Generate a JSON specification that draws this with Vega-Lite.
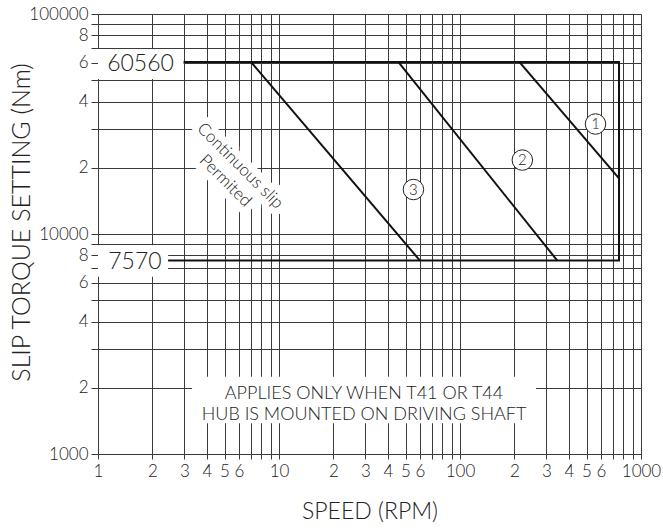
{
  "$schema": "https://vega.github.io/schema/vega-lite/v6.json",
  "width": 543,
  "height": 440,
  "autosize": {"type": "none"},
  "padding": {"left": 98, "top": 14, "right": 22, "bottom": 76},
  "background": "white",
  "config": {"view": {"stroke": null}, "font": "Lato"},
  "datasets": {
    "lines": [
      {"seg": "box", "o": 0, "x": 2.97, "y": 60560},
      {"seg": "box", "o": 1, "x": 756, "y": 60560},
      {"seg": "box", "o": 2, "x": 756, "y": 7570},
      {"seg": "box", "o": 3, "x": 2.44, "y": 7570},
      {"seg": "d1", "o": 0, "x": 212.6, "y": 60560},
      {"seg": "d1", "o": 1, "x": 756, "y": 17915},
      {"seg": "d2", "o": 0, "x": 45.6, "y": 60560},
      {"seg": "d2", "o": 1, "x": 344.9, "y": 7570},
      {"seg": "d3", "o": 0, "x": 7.0, "y": 60560},
      {"seg": "d3", "o": 1, "x": 60.1, "y": 7570}
    ],
    "boxes": [
      {"x": 1, "x2": 2.97, "y": 69300, "y2": 50700},
      {"x": 1, "x2": 2.44, "y": 8900, "y2": 6400},
      {"x": 3.31, "x2": 263, "y": 2245, "y2": 1379}
    ],
    "values": [
      {"label": "60560", "x": 1.717, "y": 58960},
      {"label": "7570", "x": 1.6, "y": 7424}
    ],
    "note": [
      {"label": "APPLIES ONLY WHEN T41 OR T44\nHUB IS MOUNTED ON DRIVING SHAFT", "x": 29.5, "y": 1874}
    ],
    "slip": [
      {"label": "Continuous slip\nPermited", "x": 6.09, "y": 20370}
    ],
    "curves": [
      {"n": "1", "x": 560.6, "y": 31623},
      {"n": "2", "x": 221, "y": 21680},
      {"n": "3", "x": 55.3, "y": 15930}
    ]
  },
  "encoding": {
    "x": {
      "field": "x",
      "type": "quantitative",
      "scale": {"type": "log", "domain": [1, 1000], "nice": false},
      "axis": {
        "zindex": 0,
        "values": [1, 2, 3, 4, 5, 6, 7, 8, 9, 10, 20, 30, 40, 50, 60, 70, 80, 90, 100, 200, 300, 400, 500, 600, 700, 800, 900, 1000],
        "labelExpr": "indexof([1,10,100,1000], datum.value) >= 0 ? toString(datum.value) : (indexof([2,3,4,5,6,20,30,40,50,60,200,300,400,500,600], datum.value) >= 0 ? substring(toString(datum.value),0,1) : '')",
        "grid": true,
        "gridColor": "#3a3a3a",
        "gridOpacity": 1,
        "gridWidth": 1,
        "domainColor": "#3a3a3a",
        "tickColor": "#3a3a3a",
        "tickSize": 5,
        "labelPadding": 4,
        "labelFont": "Lato",
        "labelFontSize": 17,
        "labelFontWeight": 300,
        "labelColor": "#222222",
        "labelFlush": false,
        "labelOverlap": false,
        "labelBound": false,
        "title": "SPEED (RPM)",
        "titleFont": "Lato",
        "titleFontSize": 23,
        "titleFontWeight": 300,
        "titleColor": "#222222",
        "titleBaseline": "alphabetic",
        "titleY": 64
      }
    },
    "y": {
      "field": "y",
      "type": "quantitative",
      "scale": {"type": "log", "domain": [1000, 100000], "nice": false},
      "axis": {
        "zindex": 0,
        "values": [1000, 2000, 3000, 4000, 5000, 6000, 7000, 8000, 9000, 10000, 20000, 30000, 40000, 50000, 60000, 70000, 80000, 90000, 100000],
        "labelExpr": "indexof([1000,10000,100000], datum.value) >= 0 ? toString(datum.value) : (indexof([2000,4000,6000,8000,20000,40000,60000,80000], datum.value) >= 0 ? substring(toString(datum.value),0,1) : '')",
        "grid": true,
        "gridColor": "#3a3a3a",
        "gridOpacity": 1,
        "gridWidth": 1,
        "domainColor": "#3a3a3a",
        "tickColor": "#3a3a3a",
        "tickSize": 7,
        "labelPadding": 3,
        "labelFont": "Lato",
        "labelFontSize": 17,
        "labelFontWeight": 300,
        "labelColor": "#222222",
        "labelOverlap": false,
        "labelBound": false,
        "title": "SLIP TORQUE SETTING (Nm)",
        "titleFont": "Lato",
        "titleFontSize": 25,
        "titleFontWeight": 300,
        "titleColor": "#222222",
        "titleBaseline": "middle",
        "titleAngle": -90,
        "titleX": -77,
        "titleY": 208
      }
    }
  },
  "layer": [
    {
      "data": {"name": "boxes"},
      "mark": {"type": "rect", "fill": "white", "stroke": null},
      "encoding": {"x2": {"field": "x2"}, "y2": {"field": "y2"}}
    },
    {
      "data": {"name": "lines"},
      "mark": {"type": "line", "color": "#111111", "strokeWidth": 2, "strokeJoin": "miter"},
      "encoding": {"detail": {"field": "seg", "type": "nominal"}, "order": {"field": "o", "type": "quantitative"}}
    },
    {
      "data": {"name": "values"},
      "mark": {"type": "text", "font": "Lato", "fontSize": 23, "fontWeight": 300, "color": "#222222", "align": "center", "baseline": "middle"},
      "encoding": {"text": {"field": "label", "type": "nominal"}}
    },
    {
      "data": {"name": "note"},
      "mark": {"type": "text", "font": "Lato", "fontSize": 18, "fontWeight": 300, "color": "#222222", "align": "center", "baseline": "middle", "lineBreak": "\n", "lineHeight": 20.7},
      "encoding": {"text": {"field": "label", "type": "nominal"}}
    },
    {
      "data": {"name": "slip"},
      "mark": {"type": "text", "font": "Lato", "fontSize": 17, "fontWeight": 300, "fill": "white", "stroke": "white", "strokeWidth": 14, "strokeJoin": "round", "align": "center", "baseline": "middle", "angle": 45, "lineBreak": "\n", "lineHeight": 21},
      "encoding": {"text": {"field": "label", "type": "nominal"}}
    },
    {
      "data": {"name": "slip"},
      "mark": {"type": "text", "font": "Lato", "fontSize": 17, "fontWeight": 300, "color": "#222222", "align": "center", "baseline": "middle", "angle": 45, "lineBreak": "\n", "lineHeight": 21},
      "encoding": {"text": {"field": "label", "type": "nominal"}}
    },
    {
      "data": {"name": "curves"},
      "mark": {"type": "point", "shape": "circle", "size": 420, "filled": true, "fill": "white", "stroke": "#222222", "strokeWidth": 1, "opacity": 1}
    },
    {
      "data": {"name": "curves"},
      "mark": {"type": "text", "font": "Lato", "fontSize": 15, "fontWeight": 300, "color": "#222222", "align": "center", "baseline": "middle"},
      "encoding": {"text": {"field": "n", "type": "nominal"}}
    }
  ]
}
